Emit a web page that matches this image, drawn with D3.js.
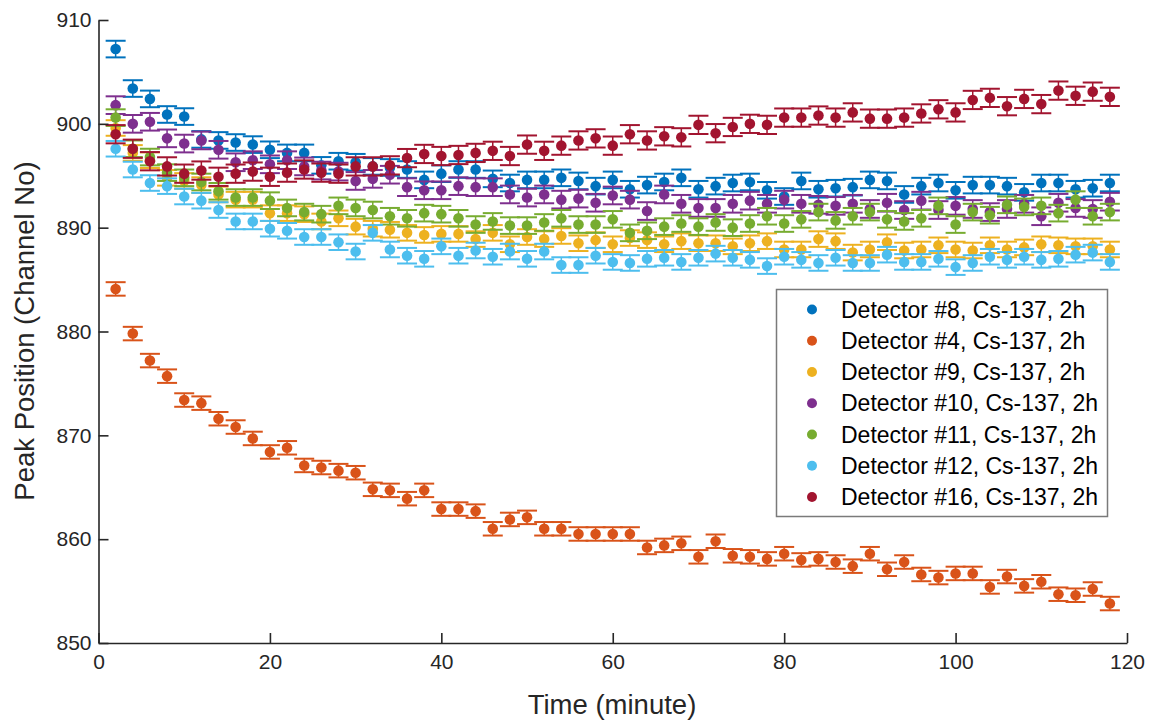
<!DOCTYPE html>
<html>
<head>
<meta charset="utf-8">
<script src="https://cdn.jsdelivr.net/npm/d3@7/dist/d3.min.js"></script>
<style>
  body { margin: 0; background: #fff; }
  svg text { font-family: "Liberation Sans", Arial, sans-serif; fill: #262626; }
</style>
</head>
<body>
<div id="viz"></div>
<script>
"use strict";

// time of each measurement (minutes)
var times = [2, 4, 6, 8, 10, 12, 14, 16, 18, 20, 22, 24, 26, 28, 30, 32, 34, 36, 38, 40,
	42, 44, 46, 48, 50, 52, 54, 56, 58, 60, 62, 64, 66, 68, 70, 72, 74, 76, 78, 80,
	82, 84, 86, 88, 90, 92, 94, 96, 98, 100, 102, 104, 106, 108, 110, 112, 114, 116, 118];

var det8 = [907.2, 903.4, 902.4, 900.9, 900.7, 898.5, 898.4, 898.2, 898.0, 897.5,
	897.2, 897.2, 896.0, 896.4, 896.3, 895.9, 895.8, 895.6, 894.6, 895.2,
	895.6, 895.6, 894.7, 894.3, 894.6, 894.6, 894.8, 894.5, 894.0, 894.6,
	893.7, 894.1, 894.4, 894.8, 893.7, 894.0, 894.3, 894.4, 893.6, 893.0,
	894.5, 893.7, 893.8, 893.9, 894.6, 894.5, 893.2, 894.0, 894.3, 893.6,
	894.1, 894.1, 894.0, 893.4, 894.3, 894.3, 893.7, 893.8, 894.3];

var det4 = [884.1, 879.8, 877.2, 875.7, 873.4, 873.1, 871.6, 870.8, 869.7, 868.4,
	868.8, 867.1, 866.9, 866.6, 866.4, 864.8, 864.7, 863.9, 864.7, 862.9,
	862.9, 862.7, 861.0, 861.9, 862.1, 861.0, 861.0, 860.5, 860.5, 860.5,
	860.5, 859.2, 859.4, 859.6, 858.3, 859.8, 858.4, 858.3, 858.1, 858.6,
	858.0, 858.1, 857.8, 857.4, 858.6, 857.1, 857.8, 856.6, 856.3, 856.7,
	856.7, 855.4, 856.4, 855.5, 855.9, 854.7, 854.6, 855.2, 853.8];

var det9 = [899.6, 897.2, 896.5, 894.8, 894.5, 894.1, 893.2, 892.7, 892.7, 891.4,
	891.4, 891.3, 890.6, 890.9, 890.1, 889.9, 889.8, 889.5, 889.3, 889.4,
	889.4, 888.9, 889.5, 888.4, 889.1, 888.9, 889.2, 888.5, 888.8, 888.4,
	889.0, 888.8, 888.4, 888.7, 888.5, 888.5, 888.2, 888.5, 888.7, 887.9,
	887.9, 888.9, 888.7, 887.6, 887.9, 888.6, 887.8, 887.9, 888.3, 887.9,
	887.8, 888.3, 887.9, 888.1, 888.4, 888.3, 888.2, 888.2, 887.9];

var det10 = [901.8, 900.0, 900.2, 898.6, 898.1, 898.4, 897.5, 896.3, 896.5, 896.1,
	896.5, 895.9, 895.5, 895.4, 894.5, 894.7, 895.1, 893.9, 893.6, 893.6,
	894.0, 893.9, 893.9, 893.2, 892.9, 893.2, 892.7, 892.8, 892.4, 893.1,
	892.7, 891.6, 893.2, 892.3, 891.9, 891.9, 892.3, 892.6, 892.3, 892.7,
	892.3, 892.2, 892.1, 892.3, 891.8, 892.4, 891.7, 892.6, 891.7, 892.1,
	891.8, 891.5, 891.8, 892.3, 891.1, 892.4, 891.9, 891.8, 892.5];

var det11 = [900.6, 897.6, 896.8, 895.3, 894.8, 894.4, 893.5, 892.9, 892.9, 892.6,
	891.9, 891.5, 891.3, 892.1, 891.9, 891.7, 891.1, 890.9, 891.4, 891.3,
	890.9, 890.3, 890.6, 890.2, 890.2, 890.5, 890.9, 890.3, 890.3, 890.8,
	889.5, 889.7, 890.1, 890.4, 890.1, 890.5, 890.0, 890.4, 891.1, 890.4,
	890.8, 891.5, 890.7, 891.1, 891.5, 890.8, 890.6, 890.9, 892.1, 890.3,
	891.5, 891.2, 892.2, 892.0, 892.1, 891.4, 892.7, 891.1, 891.5];

var det12 = [897.6, 895.6, 894.3, 894.0, 893.0, 892.6, 891.7, 890.6, 890.6, 889.9,
	889.7, 889.1, 889.1, 888.6, 887.7, 889.5, 887.9, 887.3, 887.0, 888.2,
	887.3, 887.8, 887.2, 887.7, 887.0, 887.7, 886.4, 886.4, 887.3, 886.7,
	886.6, 887.0, 887.1, 886.7, 887.1, 887.5, 887.1, 886.9, 886.3, 887.2,
	886.9, 886.6, 887.1, 886.6, 886.6, 887.4, 886.7, 886.7, 887.0, 886.2,
	886.6, 887.2, 886.9, 887.2, 886.9, 887.0, 887.4, 887.6, 886.7];

var det16 = [899.0, 897.6, 896.4, 895.9, 895.2, 895.5, 894.9, 895.2, 895.4, 894.9,
	895.3, 895.6, 895.3, 895.2, 895.9, 895.9, 896.0, 896.7, 897.1, 896.9,
	897.0, 897.2, 897.4, 896.9, 898.0, 897.4, 897.9, 898.4, 898.6, 897.9,
	899.0, 898.4, 898.8, 898.7, 899.9, 899.1, 899.7, 900.0, 899.9, 900.6,
	900.6, 900.8, 900.6, 901.1, 900.5, 900.5, 900.6, 901.0, 901.4, 901.1,
	902.3, 902.5, 901.7, 902.4, 901.9, 903.2, 902.7, 903.1, 902.6];

// half length of the error bars, one per detector
var errors = [0.8, 0.65, 0.75, 0.85, 0.8, 0.75, 0.88];

var seriesNames = ["Detector #8, Cs-137, 2h", "Detector #4, Cs-137, 2h", "Detector #9, Cs-137, 2h",
	"Detector #10, Cs-137, 2h", "Detector #11, Cs-137, 2h", "Detector #12, Cs-137, 2h",
	"Detector #16, Cs-137, 2h"];
var seriesValues = [det8, det4, det9, det10, det11, det12, det16];
var colors = ["#0072BD", "#D95319", "#EDB120", "#7E2F8E", "#77AC30", "#4DBEEE", "#A2142F"];

var xTicks = [0, 20, 40, 60, 80, 100, 120];
var yTicks = [850, 860, 870, 880, 890, 900, 910];

var width = 1153,
	height = 722,
	axisColor = "#262626",
	radius = 5.3,
	capHalf = 10;

var x = d3.scaleLinear().domain([0, 120]).range([98.5, 1127]);
var y = d3.scaleLinear().domain([850, 910]).range([643, 20]);

var svg = d3.select("#viz")
	.append("svg")
	.attr("width", width)
	.attr("height", height)

// series: error bars first, then dots, later detectors drawn on top
seriesValues.forEach(function(values, s) {
	var pts = values.map(function(v, i) { return {t: times[i], v: v, e: errors[s]} })
	var g = svg.append("g").attr("class", "series")

	var bars = g.selectAll("g.bar")
		.data(pts)
		.enter()
		.append("g")
		.attr("class", "bar")
		.attr("stroke", colors[s])

	bars.append("line")
		.attr("x1", function(d) { return x(d.t) })
		.attr("x2", function(d) { return x(d.t) })
		.attr("y1", function(d) { return y(d.v + d.e) })
		.attr("y2", function(d) { return y(d.v - d.e) })
		.attr("stroke-width", 1.5)
	bars.append("line")
		.attr("x1", function(d) { return x(d.t) - capHalf })
		.attr("x2", function(d) { return x(d.t) + capHalf })
		.attr("y1", function(d) { return y(d.v + d.e) })
		.attr("y2", function(d) { return y(d.v + d.e) })
		.attr("stroke-width", 2)
	bars.append("line")
		.attr("x1", function(d) { return x(d.t) - capHalf })
		.attr("x2", function(d) { return x(d.t) + capHalf })
		.attr("y1", function(d) { return y(d.v - d.e) })
		.attr("y2", function(d) { return y(d.v - d.e) })
		.attr("stroke-width", 2)

	g.selectAll("circle")
		.data(pts)
		.enter()
		.append("circle")
		.attr("cx", function(d) { return x(d.t) })
		.attr("cy", function(d) { return y(d.v) })
		.attr("r", radius)
		.attr("fill", colors[s])
})

// axes, ticks pointing inwards like matlab
var xAxis = svg.append("g")
	.attr("transform", "translate(0,643)")
	.call(d3.axisBottom(x).tickValues(xTicks).tickSize(-10).tickSizeOuter(0).tickPadding(11))
var yAxis = svg.append("g")
	.attr("transform", "translate(98.5,0)")
	.call(d3.axisLeft(y).tickValues(yTicks).tickSize(-10).tickSizeOuter(0).tickPadding(7))

;[xAxis, yAxis].forEach(function(ax) {
	ax.select(".domain").attr("stroke", axisColor).attr("stroke-width", 1.6)
	ax.selectAll(".tick line").attr("stroke", axisColor).attr("stroke-width", 1.6)
	ax.selectAll(".tick text")
		.attr("font-size", "21px")
		.attr("font-family", null)
		.attr("fill", axisColor)
})
xAxis.selectAll(".tick text").attr("x", 0)

svg.append("text")
	.attr("x", 612)
	.attr("y", 714)
	.attr("text-anchor", "middle")
	.attr("font-size", "27.5px")
	.text("Time (minute)")

svg.append("text")
	.attr("transform", "translate(34,331) rotate(-90)")
	.attr("text-anchor", "middle")
	.attr("font-size", "27.5px")
	.text("Peak Position (Channel No)")

// legend
var legend = svg.append("g")
	.attr("transform", "translate(776,289)")

legend.append("rect")
	.attr("x", 0.5)
	.attr("y", 0.5)
	.attr("width", 331)
	.attr("height", 227)
	.attr("fill", "white")
	.attr("stroke", "#7a7a7a")
	.attr("stroke-width", 1.5)

var rowY = d3.scaleLinear().domain([0, 6]).range([20.5, 208])

var items = legend.selectAll("g.item")
	.data(seriesNames)
	.enter()
	.append("g")
	.attr("class", "item")
	.attr("transform", function(d, i) { return "translate(0," + rowY(i) + ")" })

items.append("circle")
	.attr("cx", 36)
	.attr("cy", 0)
	.attr("r", 5)
	.attr("fill", function(d, i) { return colors[i] })

items.append("text")
	.attr("x", 65)
	.attr("y", 8)
	.attr("font-size", "23px")
	.style("fill", "#000")
	.text(function(d) { return d })
</script>
</body>
</html>
